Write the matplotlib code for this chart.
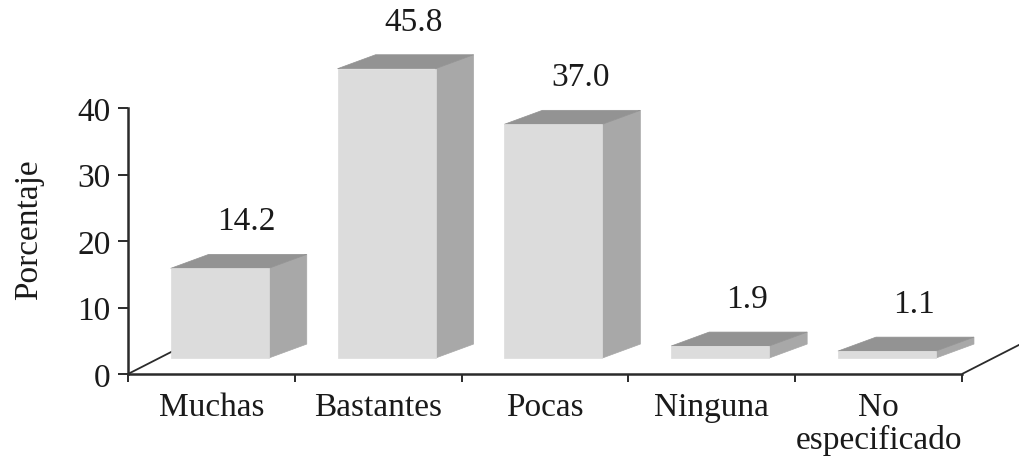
import matplotlib
matplotlib.use("Agg")
import matplotlib.pyplot as plt
from matplotlib.patches import Polygon

# Data
categories = ["Muchas", "Bastantes", "Pocas", "Ninguna", "No\nespecificado"]
values = [14.2, 45.8, 37.0, 1.9, 1.1]
value_labels = ["14.2", "45.8", "37.0", "1.9", "1.1"]
yticks = [0, 10, 20, 30, 40]

# Pseudo-3D geometry (category units on x, value units on y)
FRONT_W = 0.5875      # width of the front face
FRONT_SHIFT = 0.05    # front face centre relative to the category centre
DEPTH_X = 0.228       # oblique depth offset, x
DEPTH_Y = 2.1         # oblique depth offset, y
BASE = 2.4            # height of the bar floor above the front edge
PERSPECTIVE = 0.95    # bars stand further back, so they appear a little shorter

FRONT = "#dcdcdc"
SIDE = "#a8a8a8"
TOP = "#939393"
AXIS = "#2b2b2b"
TEXT = "#1a1a1a"
FS = 24

plt.rcParams["font.family"] = ["Liberation Serif", "DejaVu Serif"]

fig = plt.figure(figsize=(10.2, 4.64), dpi=100)
ax = fig.add_axes([128 / 1020, 89 / 464, 892 / 1020, 375 / 464])
ax.set_xlim(-0.5, -0.5 + 892 / 166.8)
ax.set_ylim(0, 375 / 6.65)

# Axes: left spine up to 40, bottom spine across the five categories
for s in ("top", "right"):
    ax.spines[s].set_visible(False)
ax.spines["left"].set_bounds(0, 40)
ax.spines["bottom"].set_bounds(-0.5, 4.5)
for s in ("left", "bottom"):
    ax.spines[s].set_color(AXIS)
    ax.spines[s].set_linewidth(1.8)

ax.set_yticks(yticks)
ax.set_yticklabels([str(t) for t in yticks], fontsize=FS, color=TEXT)
ax.set_xticks([i - 0.5 for i in range(len(categories) + 1)])
ax.set_xticklabels([])
ax.tick_params(axis="y", length=7.5, width=1.4, color=AXIS, pad=5)
ax.tick_params(axis="x", length=6, width=1.4, color=AXIS)

ax.set_ylabel("Porcentaje", fontsize=FS, color=TEXT)
ax.yaxis.set_label_coords(-0.094, 0.387)

# Floor edges receding into depth
slope = (25 / 6.65) / (49 / 166.8)
for x0 in (-0.5, 4.5):
    ax.plot([x0, x0 + 0.45], [0, 0.45 * slope], color=AXIS, lw=1.3,
            zorder=1, solid_capstyle="butt")

# Bars
for i, v in enumerate(values):
    x0 = i + FRONT_SHIFT - FRONT_W / 2
    x1 = x0 + FRONT_W
    y0 = BASE
    y1 = BASE + v * PERSPECTIVE
    front = [(x0, y0), (x1, y0), (x1, y1), (x0, y1)]
    side = [(x1, y0), (x1 + DEPTH_X, y0 + DEPTH_Y),
            (x1 + DEPTH_X, y1 + DEPTH_Y), (x1, y1)]
    top = [(x0, y1), (x1, y1), (x1 + DEPTH_X, y1 + DEPTH_Y),
           (x0 + DEPTH_X, y1 + DEPTH_Y)]
    for pts, col in ((side, SIDE), (top, TOP), (front, FRONT)):
        ax.add_patch(Polygon(pts, closed=True, facecolor=col,
                             edgecolor=col, lw=0.5, zorder=3))
    ax.text((x0 + x1 + DEPTH_X) / 2 + 0.048, y1 + DEPTH_Y + 5.0,
            value_labels[i], ha="center", va="center",
            fontsize=FS, color=TEXT, zorder=4)

# Category names under the floor
for i, c in enumerate(categories):
    ax.text(i, -2.7, c, ha="center", va="top", fontsize=FS, color=TEXT,
            linespacing=1.08, clip_on=False)

fig.savefig("out.png", dpi=100)
